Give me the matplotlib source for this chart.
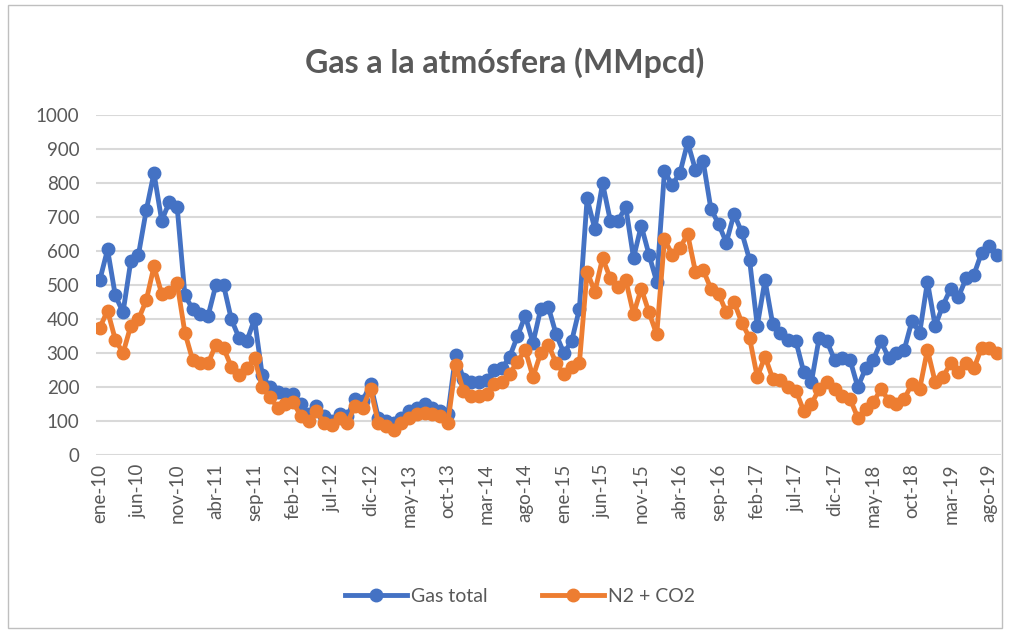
import matplotlib.pyplot as plt
from matplotlib.patches import Rectangle

plt.rcParams['font.family'] = ['Lato', 'DejaVu Sans']

# meses ene-10 .. sep-19
meses_abr = ['ene', 'feb', 'mar', 'abr', 'may', 'jun', 'jul', 'ago', 'sep', 'oct', 'nov', 'dic']
fechas = [m + '-' + str(a) for a in range(10, 20) for m in meses_abr][:117]

gas_total = [515, 605, 470, 420, 570, 590, 720, 830, 690, 745, 730, 470,
             430, 415, 410, 500, 500, 400, 345, 335, 400, 235, 200, 185,
             180, 180, 150, 120, 145, 115, 100, 120, 115, 165, 160, 210,
             110, 100, 95, 110, 130, 140, 150, 140, 130, 120, 295, 225,
             215, 215, 220, 250, 255, 290, 350, 410, 330, 430, 435, 355,
             300, 335, 430, 755, 665, 800, 690, 690, 730, 580, 675, 590,
             510, 835, 795, 830, 920, 840, 865, 725, 680, 625, 710, 655,
             575, 380, 515, 385, 360, 340, 335, 245, 215, 345, 335, 280,
             285, 280, 200, 255, 280, 335, 285, 300, 310, 395, 360, 510,
             380, 440, 490, 465, 520, 530, 595, 615, 590]

n2_co2 = [375, 425, 340, 300, 380, 400, 455, 555, 475, 480, 505, 360,
          280, 270, 270, 325, 315, 260, 235, 255, 285, 200, 170, 140,
          150, 155, 115, 100, 130, 95, 90, 110, 95, 145, 140, 195,
          95, 85, 75, 95, 110, 120, 125, 120, 115, 95, 265, 190,
          175, 175, 180, 210, 215, 240, 275, 310, 230, 300, 325, 270,
          240, 260, 270, 540, 480, 580, 520, 495, 515, 415, 490, 420,
          355, 635, 590, 610, 650, 540, 545, 490, 475, 420, 450, 390,
          345, 230, 290, 225, 220, 200, 190, 130, 150, 195, 215, 195,
          175, 165, 110, 135, 155, 195, 160, 150, 165, 210, 195, 310,
          215, 230, 270, 245, 270, 255, 315, 315, 300]

azul = '#4472C4'
naranja = '#ED7D31'
gris = '#595959'

fig = plt.figure(figsize=(10.1, 6.33), dpi=100)
ax = fig.add_axes([0.095, 0.281, 0.896, 0.537])

x = list(range(len(fechas)))
ax.plot(x, gas_total, color=azul, lw=3.5, marker='o', ms=9, label='Gas total')
ax.plot(x, n2_co2, color=naranja, lw=3.5, marker='o', ms=9, label='N2 + CO2')

ax.set_xlim(-0.5, len(fechas) - 0.5)
ax.set_ylim(0, 1000)
ax.set_yticks(range(0, 1001, 100))
ax.set_xticks(x[::5])
ax.set_xticklabels(fechas[::5], rotation=90, fontsize=14.5)
ax.tick_params(axis='both', length=0, colors=gris, labelsize=13.5)
ax.tick_params(axis='y', pad=12)
ax.tick_params(axis='x', pad=6)
ax.grid(axis='y', color='#D9D9D9', lw=1.5)
ax.set_axisbelow(True)
for s in ax.spines.values():
    s.set_visible(False)

fig.suptitle('Gas a la atmósfera (MMpcd)', x=0.5, y=0.925, fontsize=23,
             fontweight='bold', color=gris)

fig.legend(loc='center', bbox_to_anchor=(0.515, 0.058), ncol=2, frameon=False,
           fontsize=14, labelcolor=gris, handlelength=3.2, columnspacing=2.8,
           handletextpad=0.2)

fig.patches.append(Rectangle((0.008, 0.008), 0.984, 0.984, transform=fig.transFigure,
                             fill=False, edgecolor='#BFBFBF', lw=1))

fig.savefig('out.png', dpi=100)
